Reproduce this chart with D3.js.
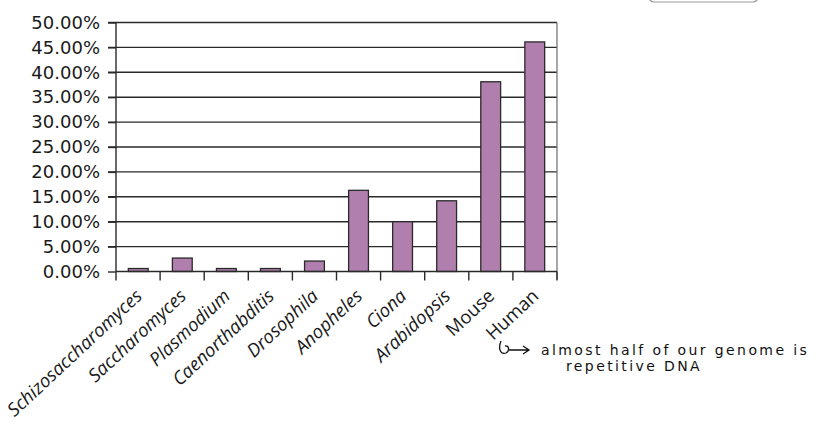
<!DOCTYPE html>
<html>
<head>
<meta charset="utf-8">
<script src="https://cdn.jsdelivr.net/npm/d3@7"></script>
<style>
  body { margin: 0; background: #fff; }
  svg { display: block; font-family: "Open Sans", sans-serif; }
</style>
</head>
<body>
<div id="chart-container"></div>
<script>
// organisms and share of genome that is repetitive (%)
var organisms = ['Schizosaccharomyces', 'Saccharomyces', 'Plasmodium', 'Caenorthabditis',
  'Drosophila', 'Anopheles', 'Ciona', 'Arabidopsis', 'Mouse', 'Human'];
var repeatPct = [0.6, 2.7, 0.6, 0.6, 2.1, 16.3, 10.0, 14.2, 38.1, 46.1];
var uprightNames = ['Mouse', 'Human'];
var yTicks = [0, 5, 10, 15, 20, 25, 30, 35, 40, 45, 50];
var noteLines = ['almost half of our genome is', 'repetitive DNA'];

var data = organisms.map(function(d, i) { return { name: d, value: repeatPct[i] }; });

var margin = { top: 22.5, right: 268, bottom: 158.5, left: 116 };
var svgWidth = 825, svgHeight = 430;
var width = svgWidth - margin.left - margin.right;
var height = svgHeight - margin.top - margin.bottom;

var svgRoot = d3.select("#chart-container").append("svg")
  .attr("width", svgWidth)
  .attr("height", svgHeight);

var svg = svgRoot.append("g")
  .attr("transform", "translate(" + margin.left + "," + margin.top + ")");

var x = d3.scaleBand()
  .domain(organisms)
  .range([0, width])
  .paddingInner(0.55)
  .paddingOuter(0.28);

var xTick = d3.scaleLinear().domain([0, organisms.length]).range([0, width]);

var y = d3.scaleLinear()
  .domain([0, 50])
  .range([height, 0]);

// grid lines
svg.append("g")
  .attr("class", "grid")
  .selectAll("line")
  .data(yTicks.slice(1))
  .enter().append("line")
  .attr("x1", -8)
  .attr("x2", width)
  .attr("y1", function(d) { return y(d); })
  .attr("y2", function(d) { return y(d); })
  .attr("stroke", "#2a2a2a")
  .attr("stroke-width", 1.4);

// right border
svg.append("line")
  .attr("x1", width).attr("x2", width)
  .attr("y1", 0).attr("y2", height + 8)
  .attr("stroke", "#777")
  .attr("stroke-width", 1.3);

// bars
svg.selectAll("rect.bar")
  .data(data)
  .enter().append("rect")
  .attr("class", "bar")
  .attr("x", function(d) { return x(d.name); })
  .attr("width", x.bandwidth())
  .attr("y", function(d) { return y(d.value); })
  .attr("height", function(d) { return height - y(d.value); })
  .attr("fill", "#b07fae")
  .attr("stroke", "#2a2a2a")
  .attr("stroke-width", 1.3);

// left axis
var yAxis = d3.axisLeft(y)
  .tickValues(yTicks)
  .tickSize(8)
  .tickFormat(function(d) { return d.toFixed(2) + "%"; });

var yg = svg.append("g").attr("class", "y axis").call(yAxis);
yg.select(".domain").attr("stroke", "#2a2a2a").attr("stroke-width", 1.4).attr("d", "M0," + height + "V0");
yg.selectAll(".tick line").attr("stroke", "#2a2a2a").attr("stroke-width", 1.4);
yg.selectAll(".tick text")
  .attr("x", -16)
  .attr("font-size", 18)
  .attr("font-family", "DejaVu Sans, sans-serif")
  .attr("fill", "#1a1a1a");

// bottom axis line and ticks between categories
svg.append("line")
  .attr("x1", 0).attr("x2", width)
  .attr("y1", height).attr("y2", height)
  .attr("stroke", "#2a2a2a")
  .attr("stroke-width", 1.4);

svg.selectAll("line.xtick")
  .data(d3.range(organisms.length + 1))
  .enter().append("line")
  .attr("class", "xtick")
  .attr("x1", function(d) { return xTick(d); })
  .attr("x2", function(d) { return xTick(d); })
  .attr("y1", height)
  .attr("y2", height + 9)
  .attr("stroke", "#2a2a2a")
  .attr("stroke-width", 1.4);

// rotated labels
svg.selectAll("text.xlabel")
  .data(organisms)
  .enter().append("text")
  .attr("class", "xlabel")
  .attr("transform", function(d) {
    return "translate(" + (x(d) + x.bandwidth() / 2 + 5) + "," + (height + 26) + ") rotate(-43)";
  })
  .attr("text-anchor", "end")
  .attr("font-size", 18.5)
  .attr("font-style", function(d) { return uprightNames.includes(d) ? "normal" : "italic"; })
  .attr("fill", "#1a1a1a")
  .text(function(d) { return d; });

// handwritten note under Human
var note = svgRoot.append("g").attr("class", "note");
note.append("path")
  .attr("d", "M501,341 C498,348 500,355 506,353 C510,351 509,345 505,346 M509,350 L528,350 M523,346 L529,350 L523,354")
  .attr("fill", "none")
  .attr("stroke", "#111")
  .attr("stroke-width", 1.3);
note.selectAll("text")
  .data(noteLines)
  .enter().append("text")
  .attr("x", function(d, i) { return i === 0 ? 541 : 566; })
  .attr("y", function(d, i) { return 355 + i * 16; })
  .attr("font-size", 14)
  .attr("font-family", "DejaVu Sans, sans-serif")
  .attr("letter-spacing", 2.4)
  .attr("fill", "#111")
  .text(function(d) { return d; });

// partial rounded box at the top
svgRoot.append("rect")
  .attr("x", 649).attr("y", -20)
  .attr("width", 109).attr("height", 22)
  .attr("rx", 5)
  .attr("fill", "none")
  .attr("stroke", "#999")
  .attr("stroke-width", 1.2);
</script>
</body>
</html>
